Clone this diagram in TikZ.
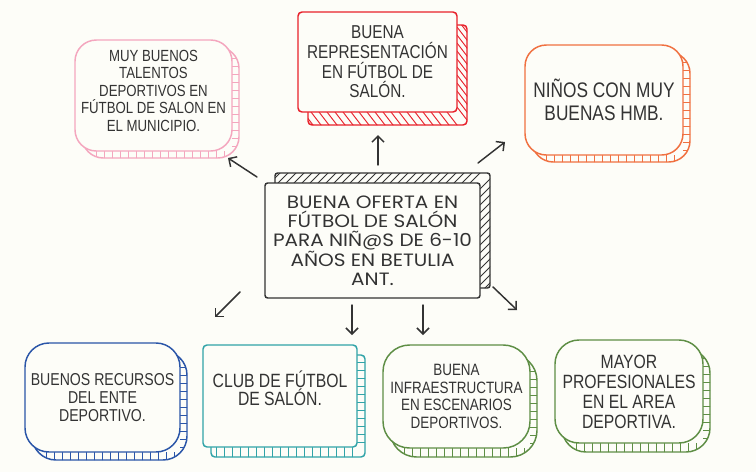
\documentclass[tikz,border=0pt]{standalone}
\usepackage{fontspec}
\usepackage{xcolor}
\usetikzlibrary{calc, arrows.meta, backgrounds}
\newfontfamily\boxfont[FakeStretch=0.82]{Liberation Sans}
\newfontfamily\handfont[FakeStretch=1.12]{Poppins}
\definecolor{PageBg}{RGB}{253,253,248}
\definecolor{InkGray}{RGB}{51,51,51}
\definecolor{TalentPink}{RGB}{244,166,190}
\definecolor{ReprRed}{RGB}{232,32,42}
\definecolor{KidsOrange}{RGB}{240,112,64}
\definecolor{FundsBlue}{RGB}{42,85,168}
\definecolor{ClubTeal}{RGB}{48,163,168}
\definecolor{FieldGreen}{RGB}{94,142,69}

% 0 = ladder ticks, 1 = slanted ticks
\def\hatchskew{0}
% name, colour, radius, dx, dy, edge anchor, width, height, side anchor
\newcommand{\hatchbox}[9]{%
  \begin{scope}[on background layer]
    \draw[#2, line width=1.1pt, fill=PageBg, rounded corners=#3]
      ([shift={(#4,#5)}]#1.south west) rectangle ([shift={(#4,#5)}]#1.north east);
    \begin{scope}
      \clip[rounded corners=#3]
        ([shift={(#4,#5)}]#1.south west) rectangle ([shift={(#4,#5)}]#1.north east);
      \foreach \s in {5,13,...,#7}
        \draw[#2, line width=.7pt] ([shift={(\s,0)}]#1.#6) -- ++(\hatchskew*1.6*#4,1.6*#5);
      \foreach \s in {5,13,...,#8}
        \draw[#2, line width=.7pt] ([shift={(0,-\s)}]#1.#9) -- ++(1.6*#4,\hatchskew*1.6*#5);
    \end{scope}
  \end{scope}}

\begin{document}
\begin{tikzpicture}[
    x=0.75pt, y=-0.75pt,
    outbox/.style={rectangle, draw=#1, line width=1.1pt, fill=PageBg, inner sep=0pt, outer sep=0pt, align=center, text=InkGray},
    boxtext/.style 2 args={font=\boxfont\fontsize{#1}{#2}\selectfont},
    arw/.style={-{Straight Barb[length=4.5pt, width=9pt]}, line width=1.1pt, color=InkGray, line cap=round}
  ]
    \useasboundingbox (0,0) rectangle (756,472);
    \begin{scope}[on background layer]
      \fill[PageBg] (0,0) rectangle (756,472);
    \end{scope}

    \node[outbox=InkGray, rounded corners=2pt, minimum width=161.25pt, minimum height=86.25pt, font=\handfont\fontsize{13.4}{14.1}\selectfont] (centro) at (372.5,240.5) {BUENA OFERTA EN\\FÚTBOL DE SALÓN\\PARA NIÑ@S DE 6-10\\AÑOS EN BETULIA\\ANT.};

    \node[outbox=TalentPink, rounded corners=16pt, minimum width=117.75pt, minimum height=83.25pt, boxtext={12.1}{13.1}] (talentos) at (153.5,95.5) {MUY BUENOS\\TALENTOS\\DEPORTIVOS EN\\FÚTBOL DE SALON EN\\EL MUNICIPIO.\\[-6pt]\mbox{}};
    \node[outbox=ReprRed, rounded corners=3pt, minimum width=119.25pt, minimum height=75pt, boxtext={14}{14.7}] (representacion) at (377.5,62) {BUENA\\REPRESENTACIÓN\\EN FÚTBOL DE\\SALÓN.};
    \node[outbox=KidsOrange, rounded corners=16pt, minimum width=118.5pt, minimum height=82.5pt, boxtext={15.8}{17.3}] (hmb) at (604,100) {NIÑOS CON MUY\\BUENAS HMB.};

    \node[outbox=FundsBlue, rounded corners=18pt, minimum width=116.25pt, minimum height=81.75pt, boxtext={12.9}{13.8}] (recursos) at (102.5,397.5) {BUENOS RECURSOS\\DEL ENTE\\DEPORTIVO.};
    \node[outbox=ClubTeal, rounded corners=3pt, minimum width=115.5pt, minimum height=76.5pt, boxtext={14.4}{13.8}] (club) at (280,396) {CLUB DE FÚTBOL\\DE SALÓN.\\[-2pt]\mbox{}};
    \node[outbox=FieldGreen, rounded corners=20pt, minimum width=110.25pt, minimum height=77.25pt, boxtext={12.3}{13.1}] (infraestructura) at (456.5,396.5) {BUENA\\INFRAESTRUCTURA\\EN ESCENARIOS\\DEPORTIVOS.};
    \node[outbox=FieldGreen, rounded corners=18pt, minimum width=111pt, minimum height=77.25pt, boxtext={14.4}{15}] (profesionales) at (629,391.5) {MAYOR\\PROFESIONALES\\EN EL AREA\\DEPORTIVA.};

    \def\hatchskew{1}
    \hatchbox{centro}{InkGray}{2pt}{10}{-10}{north west}{212}{112}{south east}
    \hatchbox{representacion}{ReprRed}{3pt}{10}{13}{south west}{154}{95}{south east}
    \def\hatchskew{0}
    \hatchbox{talentos}{TalentPink}{16pt}{7}{7}{south west}{152}{106}{south east}
    \hatchbox{hmb}{KidsOrange}{16pt}{7}{7}{south west}{153}{105}{south east}
    \hatchbox{recursos}{FundsBlue}{18pt}{7}{8}{south west}{150}{104}{south east}
    \hatchbox{club}{ClubTeal}{3pt}{8}{10}{south west}{149}{97}{south east}
    \hatchbox{infraestructura}{FieldGreen}{20pt}{7}{9}{south west}{142}{98}{south east}
    \hatchbox{profesionales}{FieldGreen}{18pt}{7}{9}{south west}{143}{98}{south east}

    \draw[arw] ([shift={(-8,-6)}]centro.north west) -- ([shift={(-4,7)}]talentos.south east);
    \draw[arw] ([shift={(5.5,-18)}]centro.north) -- ([shift={(0.5,23)}]representacion.south);
    \draw[arw] ([shift={(-2,-20)}]centro.north east) -- ([shift={(-20,-13)}]hmb.south west);
    \draw[arw] ([shift={(-25,-6)}]centro.south west) -- ([shift={(35,-26)}]recursos.north east);
    \draw[arw] ([shift={(-20.5,7)}]centro.south) -- ([shift={(-5,-10)}]club.north east);
    \draw[arw] ([shift={(50.5,7)}]centro.south) -- ([shift={(-33.5,-10)}]infraestructura.north);
    \draw[arw] ([shift={(13,-11)}]centro.south east) -- ([shift={(-38,-30)}]profesionales.north west);
  \end{tikzpicture}
\end{document}
